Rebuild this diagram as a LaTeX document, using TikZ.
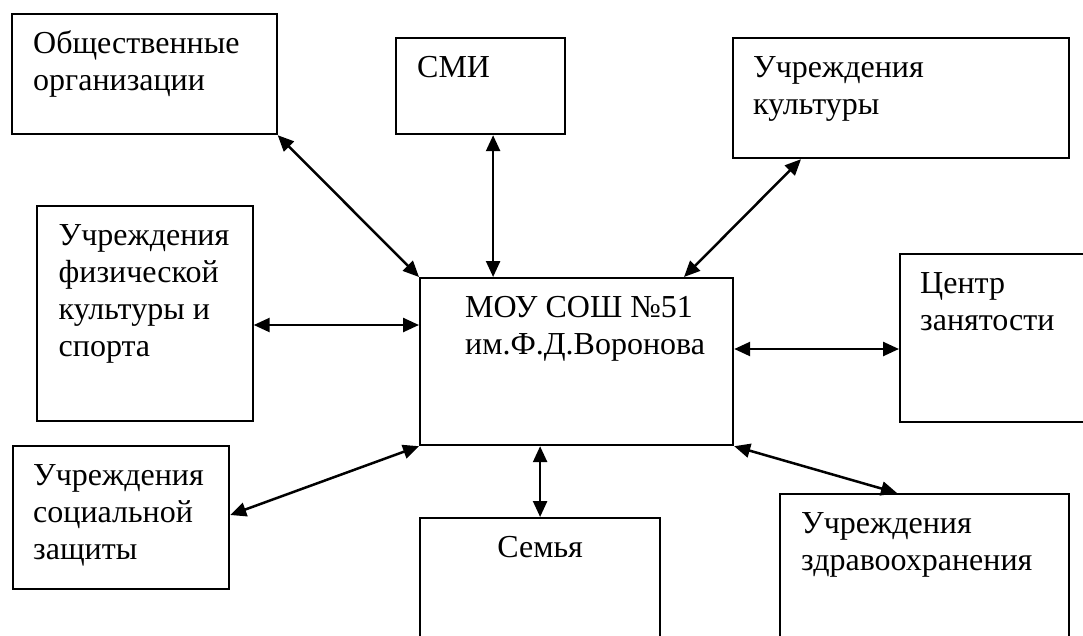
\documentclass[tikz,border=0pt]{standalone}
\usepackage{fontspec}
\setmainfont{Liberation Serif}
\usetikzlibrary{arrows.meta}
\begin{document}
\begin{tikzpicture}[x=1pt,y=-1pt,
  box/.style={draw, line width=2.2pt, inner sep=0pt, anchor=north west},
  lbl/.style={anchor=north west, inner sep=0pt, align=left, font=\fontsize{32}{37}\selectfont},
  arr/.style={line width=2.5pt, {Triangle[length=16pt,width=14pt]}-{Triangle[length=16pt,width=14pt]}}]
\useasboundingbox (0,0) rectangle (1083,635);
\clip (0,0) rectangle (1083,635);
% boxes
\node[box, minimum width=264.5pt, minimum height=120pt] (obsh) at (11,13) {};
\node[box, minimum width=169pt, minimum height=96pt] (smi) at (395,37) {};
\node[box, minimum width=336.5pt, minimum height=120pt] (kult) at (731.5,37) {};
\node[box, minimum width=215.5pt, minimum height=215pt] (fiz) at (36,205) {};
\node[box, minimum width=313pt, minimum height=167pt] (mou) at (419,277) {};
\node[box, minimum width=200pt, minimum height=168pt] (zan) at (899,253) {};
\node[box, minimum width=216pt, minimum height=143pt] (soc) at (12,445) {};
\node[box, minimum width=240pt, minimum height=140pt] (sem) at (419,517) {};
\node[box, minimum width=289pt, minimum height=160pt] (zdr) at (779,493) {};
% labels (first baseline 40pt below the box top)
\node[lbl] (tobsh) at ([xshift=22pt,yshift=-14.1pt]obsh.north west) {\strut Общественные\\организации};
\node[lbl] (tsmi) at ([xshift=22pt,yshift=-14.1pt]smi.north west) {\strut СМИ};
\node[lbl] (tkult) at ([xshift=21.5pt,yshift=-14.1pt]kult.north west) {\strut Учреждения\\культуры};
\node[lbl] (tfiz) at ([xshift=22.5pt,yshift=-14.1pt]fiz.north west) {\strut Учреждения\\физической\\культуры и\\спорта};
\node[lbl] (tmou) at ([xshift=46pt,yshift=-14.1pt]mou.north west) {\strut МОУ СОШ №51\\им.Ф.Д.Воронова};
\node[lbl] (tzan) at ([xshift=21pt,yshift=-14.1pt]zan.north west) {\strut Центр\\занятости};
\node[lbl] (tsoc) at ([xshift=21pt,yshift=-14.1pt]soc.north west) {\strut Учреждения\\социальной\\защиты};
\node[lbl, anchor=north] (tsem) at ([yshift=-14.1pt]sem.north) {\strut Семья};
\node[lbl] (tzdr) at ([xshift=22pt,yshift=-14.1pt]zdr.north west) {\strut Учреждения\\здравоохранения};
% connectors
\draw[arr] (obsh.south east) -- (mou.north west);
\draw[arr] ([xshift=12.5pt]smi.south) -- ([xshift=12.5pt]smi.south |- mou.north);
\draw[arr] ([xshift=69.5pt]kult.south west) -- ([xshift=265pt]mou.north west);
\draw[arr] ([yshift=-48pt]fiz.north east |- mou.north west) -- ([yshift=-48pt]mou.north west);
\draw[arr] ([yshift=-72pt]mou.north east) -- ([yshift=-72pt]mou.north east -| zan.west);
\draw[arr] ([yshift=-70pt]soc.north east) -- (mou.south west);
\draw[arr] (mou.south -| sem.north) -- (sem.north);
\draw[arr] (mou.south east) -- ([xshift=118pt]zdr.north west);
\end{tikzpicture}
\end{document}
